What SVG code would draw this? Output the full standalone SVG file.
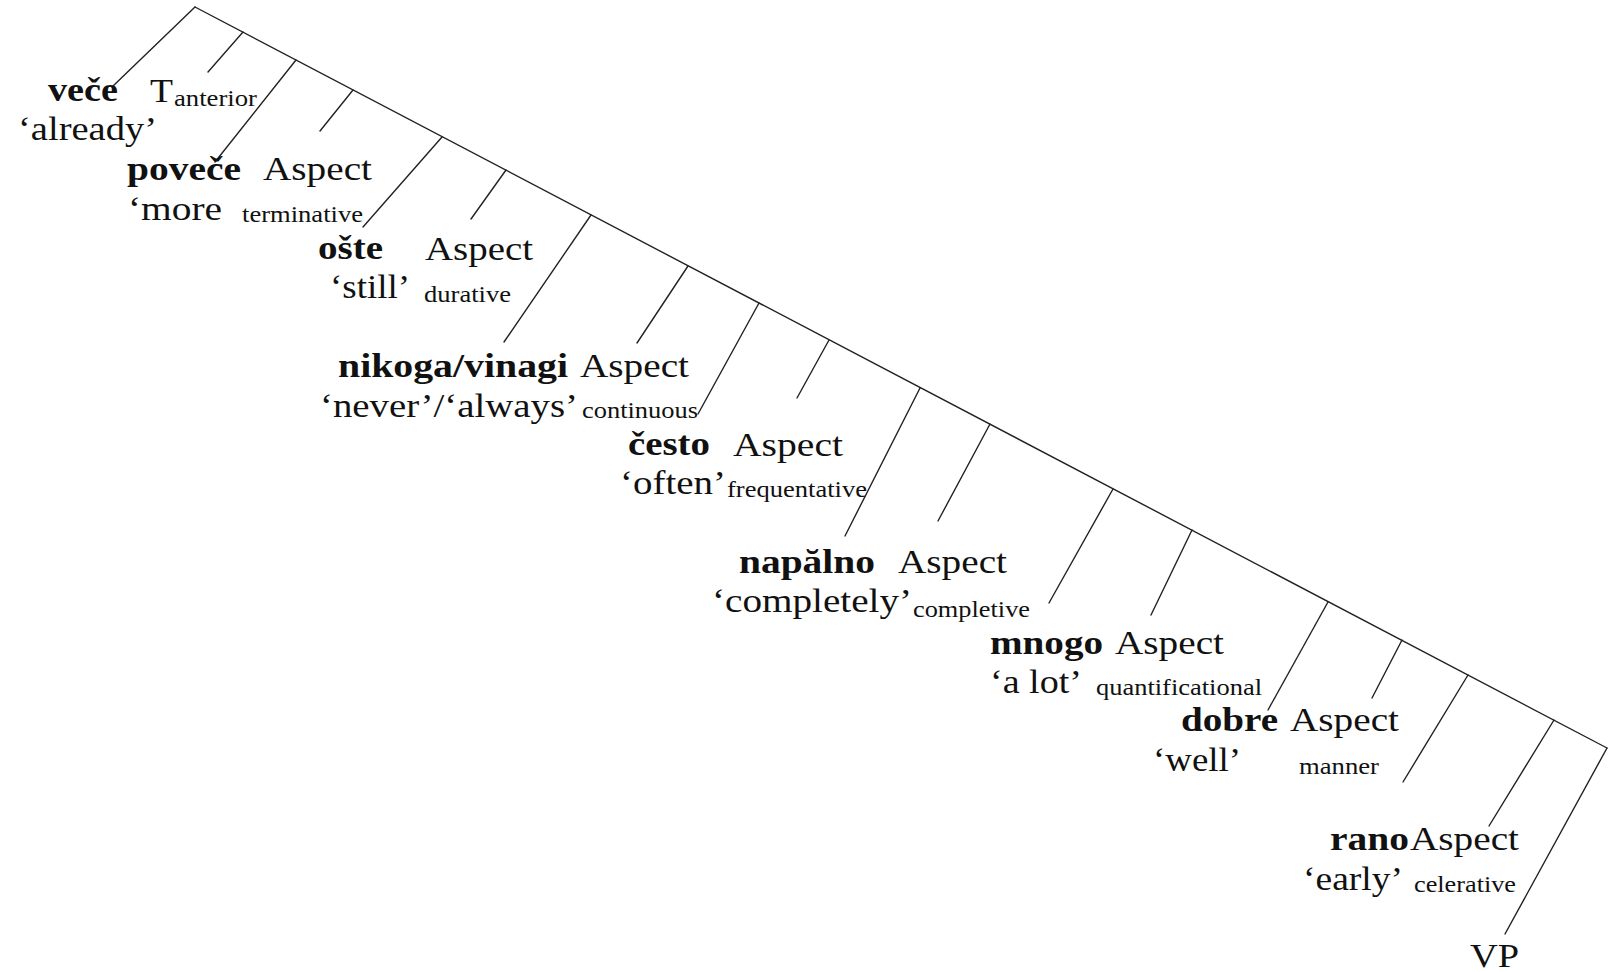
<svg xmlns="http://www.w3.org/2000/svg" width="1612" height="972" viewBox="0 0 1612 972">
<style>
text{font-family:"Liberation Serif","Times New Roman",serif;fill:#111;}
.m{font-size:33px;}
.b{font-size:33px;font-weight:bold;}
.s{font-size:23px;}
.e{stroke:#222;stroke-width:1.4;fill:none;stroke-linecap:round;}
</style>
<rect width="1612" height="972" fill="#fff"/>
<g id="connectors" class="e">
<line x1="195" y1="7" x2="1607" y2="748"/>
<line x1="195" y1="7" x2="112" y2="87"/>
<line x1="243" y1="32" x2="208" y2="72"/>
<line x1="296" y1="60" x2="215" y2="162"/>
<line x1="353" y1="90" x2="320" y2="131"/>
<line x1="442" y1="137" x2="363" y2="227"/>
<line x1="506" y1="170" x2="471" y2="219"/>
<line x1="591" y1="215" x2="504" y2="342"/>
<line x1="688" y1="266" x2="637" y2="343"/>
<line x1="759" y1="303" x2="698" y2="414"/>
<line x1="829" y1="340" x2="797" y2="398"/>
<line x1="920" y1="388" x2="845" y2="536"/>
<line x1="990" y1="424" x2="938" y2="521"/>
<line x1="1113" y1="489" x2="1049" y2="603"/>
<line x1="1192" y1="530" x2="1151" y2="615"/>
<line x1="1328" y1="602" x2="1268" y2="710"/>
<line x1="1402" y1="640" x2="1372" y2="698"/>
<line x1="1468" y1="675" x2="1403" y2="782"/>
<line x1="1554" y1="720" x2="1489" y2="826"/>
<line x1="1607" y1="748" x2="1505" y2="934"/>
</g>
<g id="node-vece">
<text class="b" x="48" y="101" textLength="70" lengthAdjust="spacingAndGlyphs">veče</text>
<text class="m" x="150" y="102" textLength="23" lengthAdjust="spacingAndGlyphs">T</text>
<text class="s" x="174" y="106" textLength="83" lengthAdjust="spacingAndGlyphs">anterior</text>
<text class="m" x="18" y="140" textLength="139" lengthAdjust="spacingAndGlyphs">‘already’</text>
</g>
<g id="node-povece">
<text class="b" x="127" y="180" textLength="114" lengthAdjust="spacingAndGlyphs">poveče</text>
<text class="m" x="263" y="180" textLength="109" lengthAdjust="spacingAndGlyphs">Aspect</text>
<text class="m" x="128" y="220" textLength="94" lengthAdjust="spacingAndGlyphs">‘more</text>
<text class="s" x="242" y="222" textLength="121" lengthAdjust="spacingAndGlyphs">terminative</text>
</g>
<g id="node-oste">
<text class="b" x="318" y="259" textLength="65" lengthAdjust="spacingAndGlyphs">ošte</text>
<text class="m" x="425" y="260" textLength="108" lengthAdjust="spacingAndGlyphs">Aspect</text>
<text class="m" x="330" y="298" textLength="80" lengthAdjust="spacingAndGlyphs">‘still’</text>
<text class="s" x="424" y="302" textLength="87" lengthAdjust="spacingAndGlyphs">durative</text>
</g>
<g id="node-nikoga">
<text class="b" x="338" y="377" textLength="230" lengthAdjust="spacingAndGlyphs">nikoga/vinagi</text>
<text class="m" x="580" y="377" textLength="109" lengthAdjust="spacingAndGlyphs">Aspect</text>
<text class="m" x="320" y="417" textLength="258" lengthAdjust="spacingAndGlyphs">‘never’/‘always’</text>
<text class="s" x="582" y="418" textLength="116" lengthAdjust="spacingAndGlyphs">continuous</text>
</g>
<g id="node-cesto">
<text class="b" x="628" y="455" textLength="82" lengthAdjust="spacingAndGlyphs">često</text>
<text class="m" x="733" y="456" textLength="110" lengthAdjust="spacingAndGlyphs">Aspect</text>
<text class="m" x="620" y="494" textLength="106" lengthAdjust="spacingAndGlyphs">‘often’</text>
<text class="s" x="727" y="497" textLength="140" lengthAdjust="spacingAndGlyphs">frequentative</text>
</g>
<g id="node-napalno">
<text class="b" x="739" y="573" textLength="136" lengthAdjust="spacingAndGlyphs">napălno</text>
<text class="m" x="898" y="573" textLength="109" lengthAdjust="spacingAndGlyphs">Aspect</text>
<text class="m" x="712" y="612" textLength="200" lengthAdjust="spacingAndGlyphs">‘completely’</text>
<text class="s" x="913" y="617" textLength="117" lengthAdjust="spacingAndGlyphs">completive</text>
</g>
<g id="node-mnogo">
<text class="b" x="990" y="654" textLength="113" lengthAdjust="spacingAndGlyphs">mnogo</text>
<text class="m" x="1115" y="654" textLength="109" lengthAdjust="spacingAndGlyphs">Aspect</text>
<text class="m" x="990" y="693" textLength="92" lengthAdjust="spacingAndGlyphs">‘a lot’</text>
<text class="s" x="1096" y="695" textLength="166" lengthAdjust="spacingAndGlyphs">quantificational</text>
</g>
<g id="node-dobre">
<text class="b" x="1181" y="731" textLength="97" lengthAdjust="spacingAndGlyphs">dobre</text>
<text class="m" x="1290" y="731" textLength="109" lengthAdjust="spacingAndGlyphs">Aspect</text>
<text class="m" x="1153" y="771" textLength="88" lengthAdjust="spacingAndGlyphs">‘well’</text>
<text class="s" x="1299" y="774" textLength="80" lengthAdjust="spacingAndGlyphs">manner</text>
</g>
<g id="node-rano">
<text class="b" x="1330" y="850" textLength="79" lengthAdjust="spacingAndGlyphs">rano</text>
<text class="m" x="1410" y="850" textLength="109" lengthAdjust="spacingAndGlyphs">Aspect</text>
<text class="m" x="1303" y="890" textLength="100" lengthAdjust="spacingAndGlyphs">‘early’</text>
<text class="s" x="1414" y="892" textLength="102" lengthAdjust="spacingAndGlyphs">celerative</text>
</g>
<g id="node-vp">
<text class="m" x="1470" y="967" textLength="49" lengthAdjust="spacingAndGlyphs">VP</text>
</g>
</svg>
